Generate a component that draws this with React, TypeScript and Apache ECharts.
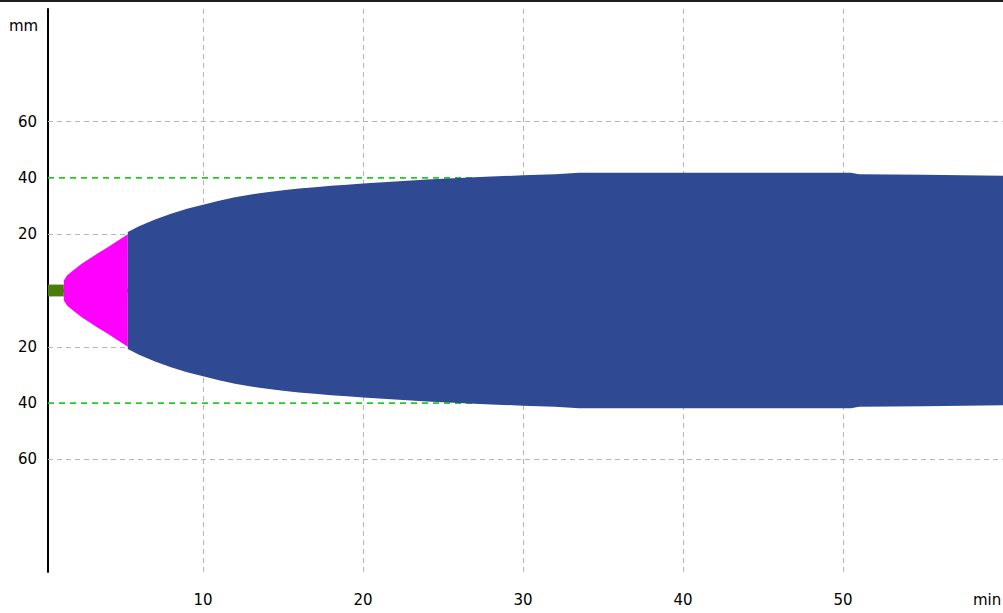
import { useEffect, useRef } from 'react';
import * as echarts from 'echarts';

// ---- data ----
const xTickValues = [10, 20, 30, 40, 50];
const yLabelValues = [60, 40, 20, -20, -40, -60];
const yGrayLines = [60, 20, -20, -60];
const yGreenLines = [40, -40];
const xMin = 0.3125;
const xMax = 60;

const stubTime = [0.3125, 1.3];
const stubRadius = [2.1, 2.1];

const ignitionTime = [1.3, 1.5, 1.9, 2.4, 2.9, 3.4, 4.0, 4.6, 5.3];
const ignitionRadius = [3.5, 5.3, 7.2, 9.4, 11.3, 13.1, 15.2, 17.4, 20.0];

const burnTime = [5.3, 6, 7, 8, 9, 10, 11, 12, 13, 14, 15, 16, 17, 18, 19, 20, 22, 24, 26, 28, 30, 32, 33.5, 50.5, 51, 55, 60];
const burnRadius = [20.8, 22.8, 25.2, 27.3, 29.0, 30.5, 31.9, 33.1, 34.1, 34.9, 35.6, 36.2, 36.7, 37.2, 37.6, 38.0, 38.7, 39.4, 40.0, 40.5, 40.9, 41.3, 41.8, 41.8, 41.3, 41.1, 40.8];

const FONT = 'DejaVu Sans';

function halves(name: string, t: number[], r: number[], color: string, z: number, extraUp: any = {}) {
  const up = t.map((v, i) => [v, r[i]]);
  const down = t.map((v, i) => [v, -r[i]]);
  const base = {
    type: 'line',
    showSymbol: false,
    symbol: 'none',
    silent: true,
    z,
    lineStyle: { width: 0, color },
    itemStyle: { color },
  };
  return [
    { ...base, name: name + '+', data: up, areaStyle: { color, opacity: 1, origin: -0.6 }, ...extraUp },
    { ...base, name: name + '-', data: down, areaStyle: { color, opacity: 1, origin: 0.6 } },
  ];
}

export default function App() {
  const ref = useRef<HTMLDivElement>(null);
  useEffect(() => {
    if (!ref.current) return;
    const chart = echarts.init(ref.current, undefined, { renderer: 'svg' });
    const grayMarkLine = {
      silent: true,
      z: 1,
      symbol: ['none', 'none'],
      label: { show: false },
      lineStyle: { color: '#b4b4b4', width: 1, type: [5, 4] },
      data: [
        ...xTickValues.map((v) => ({ xAxis: v })),
        ...yGrayLines.map((v) => ({ yAxis: v })),
      ],
    };
    const greenSeries = yGreenLines.map((v) => ({
      type: 'line',
      name: 'limit' + v,
      silent: true,
      showSymbol: false,
      symbol: 'none',
      z: 1,
      data: [[xMin, v], [xMax, v]],
      lineStyle: { color: '#22cc22', width: 1.6, type: [6, 5], opacity: 1 },
    }));
    chart.setOption({
      animation: false,
      backgroundColor: '#ffffff',
      grid: { left: 48, right: 0, top: 9, bottom: 41, containLabel: false },
      xAxis: {
        type: 'value',
        min: xMin,
        max: xMax,
        axisLine: { show: true, lineStyle: { color: '#000', width: 2 } },
        axisTick: { show: false },
        splitLine: { show: false },
        axisLabel: {
          customValues: xTickValues,
          color: '#000',
          fontFamily: FONT,
          fontSize: 15,
          margin: 20,
        },
      },
      yAxis: {
        type: 'value',
        min: -100,
        max: 100,
        interval: 20,
        axisLine: { show: true, lineStyle: { color: '#000', width: 2 } },
        axisTick: { show: false },
        splitLine: { show: false },
        axisLabel: {
          color: '#000',
          fontFamily: FONT,
          fontSize: 15,
          margin: 11,
          padding: [7, 0, 0, 0],
          formatter: (v: number) => (yLabelValues.includes(v) ? String(Math.abs(v)) : ''),
        },
      },
      series: [
        ...greenSeries,
        ...halves('stub', stubTime, stubRadius, '#4b7d0c', 3, { markLine: grayMarkLine }),
        ...halves('ignition', ignitionTime, ignitionRadius, '#ff00ff', 3),
        ...halves('burn', burnTime, burnRadius, '#2f4a93', 3),
      ],
      graphic: [
        { type: 'rect', left: 0, top: 0, shape: { width: 1003, height: 2 }, style: { fill: '#1e1e1e' }, silent: true },
        { type: 'text', left: 9, top: 18, style: { text: 'mm', fill: '#000', font: `15px "${FONT}"` }, silent: true },
        { type: 'text', left: 973, top: 592, style: { text: 'min', fill: '#000', font: `15px "${FONT}"` }, silent: true },
      ],
    });
    return () => chart.dispose();
  }, []);
  return <div ref={ref} style={{ position: 'fixed', left: 0, top: 0, width: 1003, height: 613 }} />;
}
